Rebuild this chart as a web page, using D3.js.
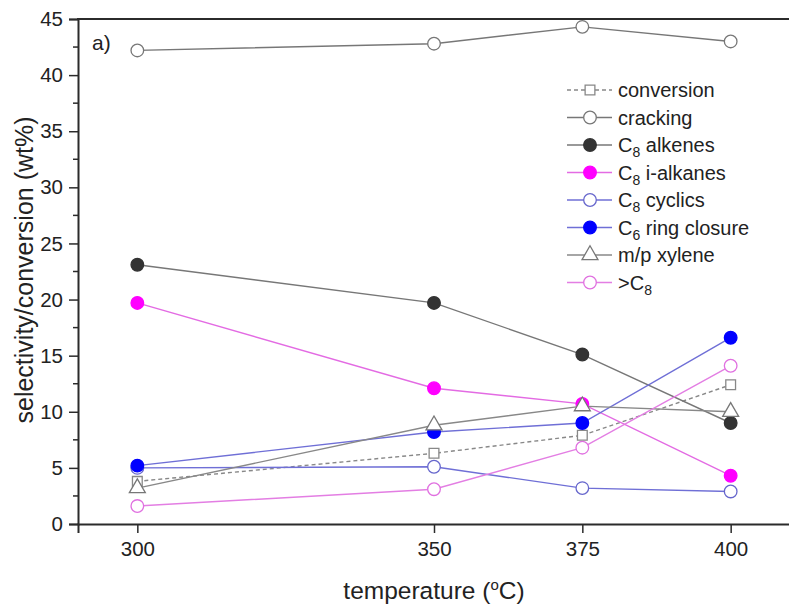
<!DOCTYPE html>
<html>
<head>
<meta charset="utf-8">
<script src="https://cdn.jsdelivr.net/npm/d3@7"></script>
<style>
  body { margin: 0; background: #fff; }
  svg { display: block; font-family: "Liberation Sans", Arial, sans-serif; }
</style>
</head>
<body>
<svg id="chart" width="789" height="607"></svg>
<script>
// temperatures (oC)
var temps = [300, 350, 375, 400];

// series values (wt%)
var conversion = [3.8, 6.3, 7.9, 12.4];
var cracking = [42.2, 42.8, 44.3, 43.0];
var c8Alkenes = [23.1, 19.7, 15.1, 9.0];
var c8iAlkanes = [19.7, 12.1, 10.7, 4.3];
var c8Cyclics = [5.0, 5.1, 3.2, 2.9];
var c6Ring = [5.2, 8.2, 9.0, 16.6];
var xylene = [3.2, 8.8, 10.5, 10.0];
var aboveC8 = [1.6, 3.1, 6.8, 14.1];

var xTicks = [300, 350, 375, 400];
var yTicks = [0, 5, 10, 15, 20, 25, 30, 35, 40, 45];

// label: [main, sub, tail]
var series = [
  {label: ["conversion"], values: conversion, line: "#888", dash: "4,3", sym: "square", fill: "#fff", stroke: "#888"},
  {label: ["cracking"], values: cracking, line: "#777", sym: "circle", fill: "#fff", stroke: "#777"},
  {label: ["C", "8", " alkenes"], values: c8Alkenes, line: "#777", sym: "circle", fill: "#333", stroke: "#333"},
  {label: ["C", "8", " i-alkanes"], values: c8iAlkanes, line: "#e36be3", sym: "circle", fill: "#ff00ff", stroke: "#ff00ff"},
  {label: ["C", "8", " cyclics"], values: c8Cyclics, line: "#6f6fd6", sym: "circle", fill: "#fff", stroke: "#6666cc"},
  {label: ["C", "6", " ring closure"], values: c6Ring, line: "#6f6fd6", sym: "circle", fill: "#0000ff", stroke: "#0000ff"},
  {label: ["m/p xylene"], values: xylene, line: "#888", sym: "triangle", fill: "#fff", stroke: "#777"},
  {label: [">C", "8", ""], values: aboveC8, line: "#e37ee3", sym: "circle", fill: "#fff", stroke: "#e070e0"}
];

var svg = d3.select("#chart");

var x = d3.scaleLinear().domain([290, 410]).range([78, 790]);
var y = d3.scaleLinear().domain([0, 45]).range([524, 19]);

var axisColor = "#2b2b2b";

//###############################################
// axes
//###############################################
var xAxis = svg.append("g").attr("transform", "translate(0,524)")
  .call(d3.axisBottom(x).tickValues(xTicks).tickSize(9).tickPadding(8).tickFormat(d3.format("d")));
var yAxis = svg.append("g").attr("transform", "translate(78,0)")
  .call(d3.axisLeft(y).tickValues(yTicks).tickSize(9).tickPadding(6));

[xAxis, yAxis].forEach(function(a) {
  a.select(".domain").attr("stroke", axisColor).attr("stroke-width", 2);
  a.selectAll(".tick line").attr("stroke", axisColor).attr("stroke-width", 1.5);
  a.selectAll(".tick text").attr("fill", "#222").style("font-size", "20.5px")
    .style("font-family", "Liberation Sans, Arial, sans-serif");
});

// minor ticks on y
var minor = d3.range(2.5, 45, 5);
svg.append("g").selectAll("line").data(minor).join("line")
  .attr("x1", 73).attr("x2", 78)
  .attr("y1", function(d) { return y(d); }).attr("y2", function(d) { return y(d); })
  .attr("stroke", axisColor).attr("stroke-width", 1.5);

// top frame line
svg.append("line").attr("x1", 77).attr("x2", 789).attr("y1", y(45)).attr("y2", y(45))
  .attr("stroke", axisColor).attr("stroke-width", 2);

// axis titles
svg.append("text").attr("x", 434).attr("y", 599).attr("text-anchor", "middle")
  .style("font-size", "24.5px").attr("fill", "#222")
  .call(function(t) {
    t.append("tspan").text("temperature (");
    t.append("tspan").attr("dy", -9).style("font-size", "15px").text("o");
    t.append("tspan").attr("dy", 9).text("C)");
  });

svg.append("text").attr("transform", "translate(33,270) rotate(-90)").attr("text-anchor", "middle")
  .style("font-size", "25px").attr("fill", "#222")
  .text("selectivity/conversion (wt%)");

svg.append("text").attr("x", 92).attr("y", 50).style("font-size", "21px").attr("fill", "#222").text("a)");

//###############################################
// series
//###############################################
function symbolOf(s) {
  if (s.sym === "square") return d3.symbol().type(d3.symbolSquare).size(95)();
  if (s.sym === "triangle") return d3.symbol().type(d3.symbolTriangle).size(110)();
  return d3.symbol().type(d3.symbolCircle).size(125)();
}

var line = d3.line().x(function(d) { return x(d[0]); }).y(function(d) { return y(d[1]); });

var gLines = svg.append("g");
var gPts = svg.append("g");

series.forEach(function(s) {
  var pts = temps.map(function(t, i) { return [t, s.values[i]]; });
  gLines.append("path").datum(pts)
    .attr("d", line).attr("fill", "none")
    .attr("stroke", s.line).attr("stroke-width", 1.4)
    .attr("stroke-dasharray", s.dash || null);
});

series.forEach(function(s) {
  var pts = temps.map(function(t, i) { return [t, s.values[i]]; });
  gPts.append("g").selectAll("path").data(pts).join("path")
    .attr("d", symbolOf(s))
    .attr("transform", function(d) { return "translate(" + x(d[0]) + "," + y(d[1]) + ")"; })
    .attr("fill", s.fill).attr("stroke", s.stroke).attr("stroke-width", 1.3);
});

//###############################################
// legend
//###############################################
var legend = svg.append("g").attr("transform", "translate(567,90)");
series.forEach(function(s, i) {
  var row = legend.append("g").attr("transform", "translate(0," + (i * 27.5) + ")");
  row.append("line").attr("x1", 0).attr("x2", 45).attr("y1", 0).attr("y2", 0)
    .attr("stroke", s.line).attr("stroke-width", 1.4).attr("stroke-dasharray", s.dash || null);
  row.append("path").attr("d", symbolOf(s)).attr("transform", "translate(23,0)")
    .attr("fill", s.fill).attr("stroke", s.stroke).attr("stroke-width", 1.3);
  var t = row.append("text").attr("x", 51).attr("y", 7).style("font-size", "20px").attr("fill", "#222");
  t.append("tspan").text(s.label[0]);
  if (s.label.length > 1) {
    t.append("tspan").attr("dy", 5).style("font-size", "14px").text(s.label[1]);
    t.append("tspan").attr("dy", -5).text(s.label[2]);
  }
});
</script>
</body>
</html>
